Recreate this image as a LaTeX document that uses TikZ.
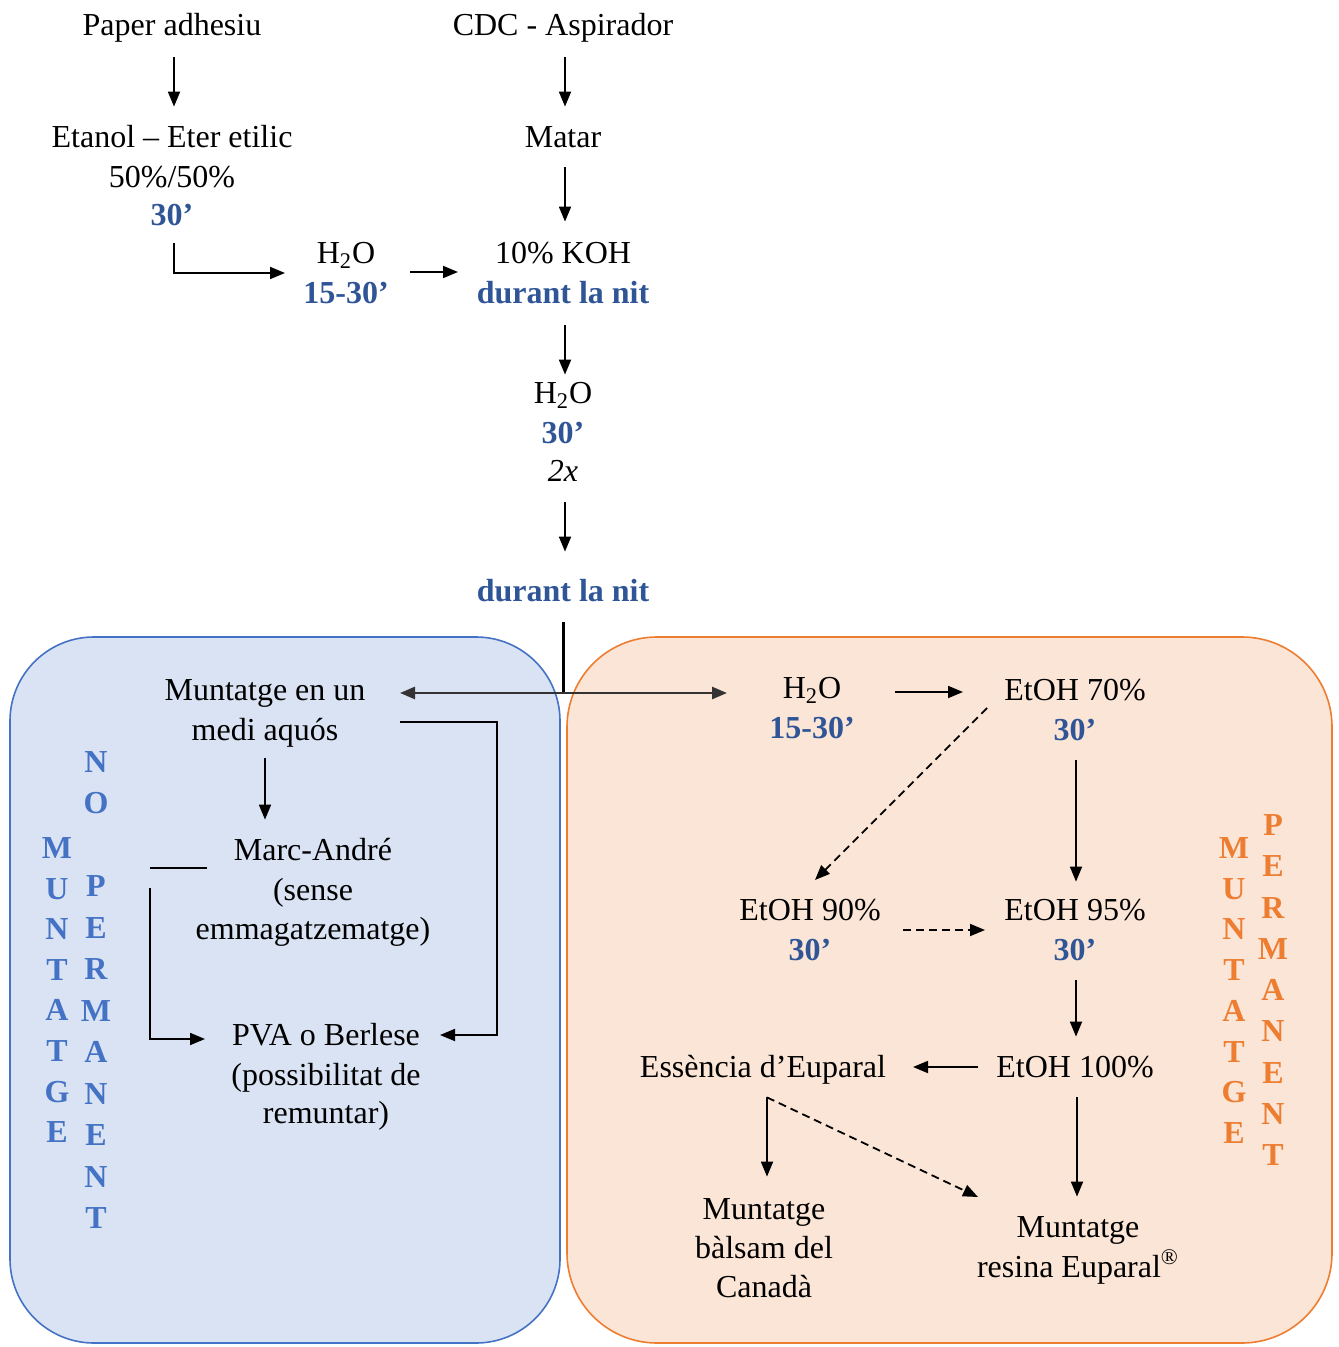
\documentclass[tikz,border=0pt]{standalone}
\usepackage{fontspec}
\setmainfont{Liberation Serif}
\usetikzlibrary{arrows.meta}
\definecolor{bluetxt}{RGB}{47,85,151}
\definecolor{blueletter}{RGB}{68,114,196}
\definecolor{bluefill}{RGB}{218,227,243}
\definecolor{blueline}{RGB}{68,114,196}
\definecolor{orfill}{RGB}{251,229,214}
\definecolor{orline}{RGB}{237,125,49}
\begin{document}
\begin{tikzpicture}[x=0.5pt,y=-0.5pt,
  txt/.style={inner sep=0pt, text height=12.5pt, text depth=2pt, font=\fontsize{16}{19.75}\selectfont},
  tim/.style={txt, text=bluetxt, font=\fontsize{16}{19.75}\selectfont\bfseries},
  ital/.style={txt, font=\fontsize{16}{19.75}\selectfont\itshape},
  vbl/.style={txt, text=blueletter, font=\fontsize{16}{19.75}\selectfont\bfseries},
  vor/.style={txt, text=orline, font=\fontsize{16}{19.75}\selectfont\bfseries},
  arr/.style={line width=0.9pt, -{Triangle[length=7.5pt,width=6pt]}},
  darr/.style={arr, dash pattern=on 4pt off 2.5pt},
  plain/.style={line width=0.9pt},
  splitarr/.style={line width=1.3pt, draw=black!80, {Triangle[length=7.5pt,width=6pt]}-{Triangle[length=7.5pt,width=6pt]}},
]
\useasboundingbox (0,0) rectangle (1338,1347);

% boxes
\draw[blueline, fill=bluefill, line width=0.8pt, rounded corners=42pt] (10,637) rectangle (560,1343);
\draw[orline, fill=orfill, line width=0.8pt, rounded corners=45pt] (567,637) rectangle (1332,1343);

% top part
\node[txt] (pap) at (172,25) {Paper adhesiu};
\node[txt] (cdc) at (563,25) {CDC - Aspirador};
\node[txt] (eta1) at (172,137) {Etanol – Eter etilic};
\node[txt] (eta2) at (172,177) {50\%/50\%};
\node[tim] (eta3) at (172,215) {30’};
\node[txt] (mat) at (563,137) {Matar};
\node[txt] (hw1) at (346,253) {H\textsubscript{2}O};
\node[tim] (hw2) at (346,293) {15-30’};
\node[txt] (koh1) at (563,253) {10\% KOH};
\node[tim] (koh2) at (563,293) {durant la nit};
\node[txt] (hx1) at (563,393) {H\textsubscript{2}O};
\node[tim] (hx2) at (563,433) {30’};
\node[ital] (hx3) at (563,471) {2x};
\node[tim] (dur) at (563,591) {durant la nit};
\coordinate (jn) at (563,693);

\draw[arr,shorten <=8.75pt,shorten >=7.75pt] ([xshift=1pt]pap.south) -- ([xshift=1pt]pap.south |- eta1.north);
\draw[arr,shorten <=8.75pt,shorten >=7.75pt] ([xshift=1pt]cdc.south) -- ([xshift=1pt]cdc.south |- mat.north);
\draw[arr,shorten <=7.75pt,shorten >=8.25pt] ([xshift=1pt]mat.south) -- ([xshift=1pt]mat.south |- koh1.north);
\draw[arr,shorten <=6.75pt] ([xshift=1pt]eta3.south) |- ([xshift=-30.5pt,yshift=-10pt]hw1.center);
\draw[arr] ([xshift=32pt,yshift=-9.5pt]hw1.center) -- ([xshift=-52.5pt,yshift=-9.5pt]koh1.center);
\draw[arr,shorten <=8.75pt,shorten >=1.75pt] ([xshift=1pt]koh2.south) -- ([xshift=1pt]koh2.south |- hx1.north);
\draw[arr,shorten <=8.25pt,shorten >=12.25pt] ([xshift=1pt]hx3.south) -- ([xshift=1pt]hx3.south |- dur.north);
\draw[line width=1.5pt,shorten <=8.25pt] (dur.south) -- (jn);

% left box
\node[txt] (m1) at (265,690) {Muntatge en un};
\node[txt] (m2) at (265,730) {medi aquós};
\node[txt] (ma1) at (313,850) {Marc-André};
\node[txt] (ma2) at (313,890) {(sense};
\node[txt] (ma3) at (313,929) {emmagatzematge)};
\node[txt] (pva1) at (326,1035) {PVA o Berlese};
\node[txt] (pva2) at (326,1075) {(possibilitat de};
\node[txt] (pva3) at (326,1113) {remuntar)};

\foreach \l [count=\i from 0] in {M,U,N,T,A,T,G,E}
  \node[vbl] (bm\i) at (57,{848+40.6*\i}) {\l};
\foreach \l [count=\i from 0] in {N,O}
  \node[vbl] (bn\i) at (96,{762+41*\i}) {\l};
\foreach \l [count=\i from 0] in {P,E,R,M,A,N,E,N,T}
  \node[vbl] (bp\i) at (96,{886+41.5*\i}) {\l};

\draw[arr,shorten <=6.75pt,shorten >=7.75pt] (m2.south) -- (m2.south |- ma1.north);
\draw[arr] ([xshift=67.5pt,yshift=4pt]m2.center) -| ([xshift=85.5pt]pva1.center) -- ([xshift=57pt]pva1.center);
\draw[plain] ([xshift=-53pt,yshift=-9pt]ma1.center) -- ([xshift=-81.5pt,yshift=-9pt]ma1.center);
\draw[arr] ([xshift=-81.5pt,yshift=-19pt]ma1.center) |- ([xshift=-60.5pt,yshift=-2pt]pva1.center);

% right box
\node[txt] (r1) at (812,688) {H\textsubscript{2}O};
\node[tim] (r2) at (812,728) {15-30’};
\node[txt] (e70a) at (1075,690) {EtOH 70\%};
\node[tim] (e70b) at (1075,730) {30’};
\node[txt] (e90a) at (810,910) {EtOH 90\%};
\node[tim] (e90b) at (810,950) {30’};
\node[txt] (e95a) at (1075,910) {EtOH 95\%};
\node[tim] (e95b) at (1075,950) {30’};
\node[txt] (e100) at (1075,1067) {EtOH 100\%};
\node[txt] (ess) at (763,1067) {Essència d’Euparal};
\node[txt] (bal1) at (764,1209) {Muntatge};
\node[txt] (bal2) at (764,1248) {bàlsam del};
\node[txt] (bal3) at (764,1287) {Canadà};
\node[txt] (res1) at (1078,1227) {Muntatge};
\node[txt] (res2) at (1078,1267) {resina Euparal\textsuperscript{®}};

\foreach \l [count=\i from 0] in {M,U,N,T,A,T,G,E}
  \node[vor] (om\i) at (1234,{848+40.7*\i}) {\l};
\foreach \l [count=\i from 0] in {P,E,R,M,A,N,E,N,T}
  \node[vor] (op\i) at (1273,{825+41.25*\i}) {\l};

\draw[arr] ([xshift=41.5pt,yshift=-2pt]r1.center) -- ([xshift=-56pt,yshift=-1pt]e70a.center);
\draw[darr] ([xshift=-44pt,yshift=-9pt]e70a.center) -- ([xshift=2.5pt,yshift=15pt]e90a.center);
\draw[arr,shorten <=7.75pt,shorten >=6.75pt] ([xshift=0.5pt]e70b.south) -- ([xshift=0.5pt]e70b.south |- e95a.north);
\draw[darr] ([xshift=46.5pt,yshift=-10pt]e90a.center) -- ([xshift=-45pt,yshift=-10pt]e95a.center);
\draw[arr,shorten <=7.75pt,shorten >=7.75pt] ([xshift=0.5pt]e95b.south) -- ([xshift=0.5pt]e95b.south |- e100.north);
\draw[arr] ([xshift=-48.5pt]e100.center) -- ([xshift=75pt]ess.center);
\draw[arr,shorten <=7.75pt,shorten >=8.75pt] ([xshift=2pt]ess.south) -- ([xshift=2pt]ess.south |- bal1.north);
\draw[darr] ([xshift=2pt,yshift=-7.75pt]ess.south) -- ([xshift=-50pt,yshift=15pt]res1.center);
\draw[arr,shorten <=7.75pt,shorten >=7.75pt] ([xshift=1pt]e100.south) -- ([xshift=1pt]e100.south |- res1.north);

% splitter
\draw[splitarr,shorten <=67.5pt,shorten >=42.5pt] (jn -| m1) -- (jn -| r1);
\end{tikzpicture}
\end{document}
